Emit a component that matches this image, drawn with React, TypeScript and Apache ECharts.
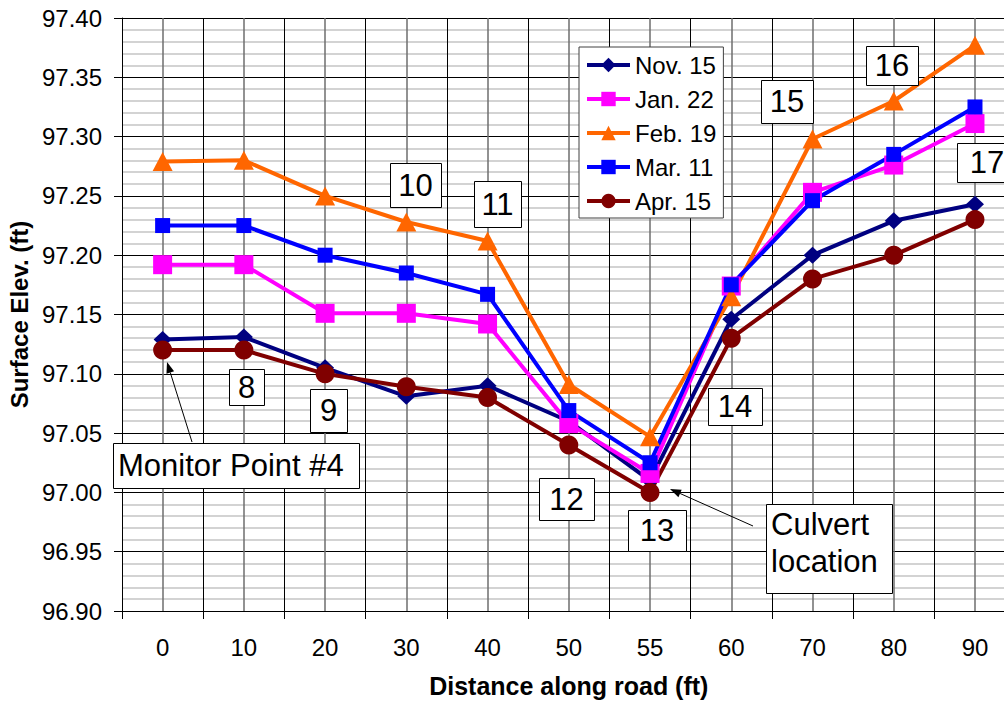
import React, { useEffect, useRef } from 'react';
import * as echarts from 'echarts';

// ---- data ----
const categories = ['0', '10', '20', '30', '40', '50', '55', '60', '70', '80', '90'];
const seriesNames = ['Nov. 15', 'Jan. 22', 'Feb. 19', 'Mar. 11', 'Apr. 15'];
const nov15 = [97.129, 97.131, 97.105, 97.081, 97.09, 97.06, 97.01, 97.146, 97.2, 97.229, 97.243];
const jan22 = [97.192, 97.192, 97.151, 97.151, 97.142, 97.058, 97.016, 97.174, 97.253, 97.276, 97.311];
const feb19 = [97.279, 97.28, 97.25, 97.228, 97.212, 97.091, 97.047, 97.165, 97.298, 97.33, 97.377];
const mar11 = [97.225, 97.225, 97.2, 97.185, 97.167, 97.069, 97.025, 97.175, 97.246, 97.285, 97.325];
const apr15 = [97.12, 97.12, 97.1, 97.089, 97.08, 97.04, 97.0, 97.13, 97.18, 97.2, 97.23];
const seriesValues = [nov15, jan22, feb19, mar11, apr15];

// y axis
const yMin = 96.9;
const yMax = 97.4;
const yStep = 0.05;

// annotation texts
const pointLabels = ['8', '9', '10', '11', '12', '13', '14', '15', '16', '17'];
const monitorText = 'Monitor Point #4';
const culvertText = 'Culvert\nlocation';

// ---- styles / layout ----
const FONT = '"Liberation Sans", Arial, sans-serif';
const seriesColors = ['#000080', '#FF00FF', '#FF6600', '#0000FF', '#800000'];
const seriesSymbols = ['diamond', 'rect', 'triangle', 'rect', 'circle'];
const seriesSymbolSizes: any[] = [[18, 17], 19, [20, 19], 15, 19];

// boxes: x, y, w, h (pixels)
const pointBoxes = [
  [229, 369, 35, 36],
  [310, 389, 37, 43],
  [390, 163, 51, 44],
  [474, 181, 47, 46],
  [539, 478, 55, 42],
  [628, 510, 58, 41],
  [708, 388, 54, 37],
  [761, 80, 52, 43],
  [866, 46, 52, 39],
  [957, 143, 60, 39],
];
const monitorBox = [113, 443, 246, 45];
const culvertBox = [766, 504, 126, 89];
const monitorArrow = [192, 442, 167, 362];
const culvertArrow = [753, 526, 670, 489];

function boxEls(text: string, b: number[], align: 'center' | 'left', lineHeight?: number, dy = 0) {
  const [x, y, w, h] = b;
  return [
    {
      type: 'rect',
      z: 100,
      shape: { x: x + 0.5, y: y + 0.5, width: w, height: h },
      style: { fill: '#fff', stroke: '#000', lineWidth: 1 },
    },
    {
      type: 'text',
      z: 101,
      x: align === 'center' ? x + w / 2 : x + 5,
      y: y + h / 2 + dy,
      style: {
        text,
        fill: '#000',
        fontFamily: FONT,
        fontSize: 31,
        lineHeight: lineHeight,
        align,
        verticalAlign: 'middle',
      },
    },
  ];
}

function arrowEls(a: number[]) {
  const [x1, y1, x2, y2] = a;
  const ang = Math.atan2(y2 - y1, x2 - x1);
  const L = 11;
  const W = 4;
  const bx = x2 - L * Math.cos(ang);
  const by = y2 - L * Math.sin(ang);
  return [
    {
      type: 'line',
      z: 100,
      shape: { x1, y1, x2: bx, y2: by },
      style: { stroke: '#000', lineWidth: 1 },
    },
    {
      type: 'polygon',
      z: 100,
      shape: {
        points: [
          [x2, y2],
          [bx - W * Math.sin(ang), by + W * Math.cos(ang)],
          [bx + W * Math.sin(ang), by - W * Math.cos(ang)],
        ],
      },
      style: { fill: '#000' },
    },
  ];
}

export default function App() {
  const ref = useRef<HTMLDivElement>(null);
  useEffect(() => {
    if (!ref.current) return;
    const chart = echarts.init(ref.current, null, { renderer: 'svg' });
    const halfSteps = Array.from({ length: categories.length * 2 + 1 }, (_, i) => String(i));
    const graphics: any[] = [];
    pointLabels.forEach((t, i) => graphics.push(...boxEls(t, pointBoxes[i], 'center')));
    graphics.push(...boxEls(monitorText, monitorBox, 'left'));
    graphics.push(...boxEls(culvertText, culvertBox, 'left', 37, -6));
    graphics.push(...arrowEls(monitorArrow));
    graphics.push(...arrowEls(culvertArrow));

    chart.setOption({
      animation: false,
      backgroundColor: '#fff',
      grid: {
        left: 122,
        top: 18,
        right: -11.6,
        bottom: 91,
        containLabel: false,
        outerBoundsMode: 'none',
      },
      legend: {
        orient: 'vertical',
        left: 579,
        top: 47,
        padding: [6, 7, 5, 6],
        itemWidth: 43,
        itemHeight: 18,
        itemGap: 10,
        backgroundColor: '#fff',
        borderColor: '#404040',
        borderWidth: 1,
        borderRadius: 0,
        lineStyle: { width: 4 },
        textStyle: { fontFamily: FONT, fontSize: 24, color: '#000', lineHeight: 24 },
        data: seriesNames,
      },
      xAxis: [
        {
          type: 'category',
          data: categories,
          boundaryGap: true,
          name: 'Distance along road (ft)',
          nameLocation: 'middle',
          nameGap: 62,
          nameTextStyle: { fontFamily: FONT, fontSize: 25, fontWeight: 'bold', color: '#000' },
          axisLine: { show: true, lineStyle: { color: '#000', width: 1 } },
          axisTick: { show: true, interval: 0, length: 8, lineStyle: { color: '#000' } },
          axisLabel: { interval: 0, fontFamily: FONT, fontSize: 24, color: '#000', margin: 24 },
          splitLine: { show: true, interval: 0, lineStyle: { color: '#000', width: 1 } },
        },
        {
          type: 'category',
          data: halfSteps,
          boundaryGap: false,
          position: 'bottom',
          axisLine: { show: false },
          axisTick: { show: false },
          axisLabel: { show: false },
          splitLine: {
            show: true,
            interval: (i: number) => i % 2 === 1,
            lineStyle: { color: '#6e6e6e', width: 1.5 },
          },
        },
      ],
      yAxis: {
        type: 'value',
        min: yMin,
        max: yMax,
        interval: yStep,
        name: 'Surface Elev. (ft)',
        nameLocation: 'middle',
        nameGap: 89,
        nameTextStyle: { fontFamily: FONT, fontSize: 24, fontWeight: 'bold', color: '#000' },
        axisLine: { show: true, lineStyle: { color: '#000', width: 1 } },
        axisTick: { show: true, length: 8, lineStyle: { color: '#000' } },
        axisLabel: {
          fontFamily: FONT,
          fontSize: 24,
          color: '#000',
          margin: 20,
          formatter: (v: number) => v.toFixed(2),
        },
        splitLine: { show: true, lineStyle: { color: '#000', width: 1 } },
        minorTick: { show: false, splitNumber: 5 },
        minorSplitLine: { show: true, lineStyle: { color: '#c4c4c4', width: 1.5 } },
      },
      series: seriesNames.map((name, i) => ({
        type: 'line',
        name,
        data: seriesValues[i],
        xAxisIndex: 0,
        symbol: seriesSymbols[i],
        symbolSize: seriesSymbolSizes[i],
        showSymbol: true,
        itemStyle: { color: seriesColors[i] },
        lineStyle: { color: seriesColors[i], width: 4 },
        emphasis: { disabled: true },
      })),
      graphic: graphics,
    });
    return () => chart.dispose();
  }, []);
  return (
    <div
      ref={ref}
      style={{ position: 'fixed', left: 0, top: 0, width: 1004, height: 702, overflow: 'hidden' }}
    />
  );
}
